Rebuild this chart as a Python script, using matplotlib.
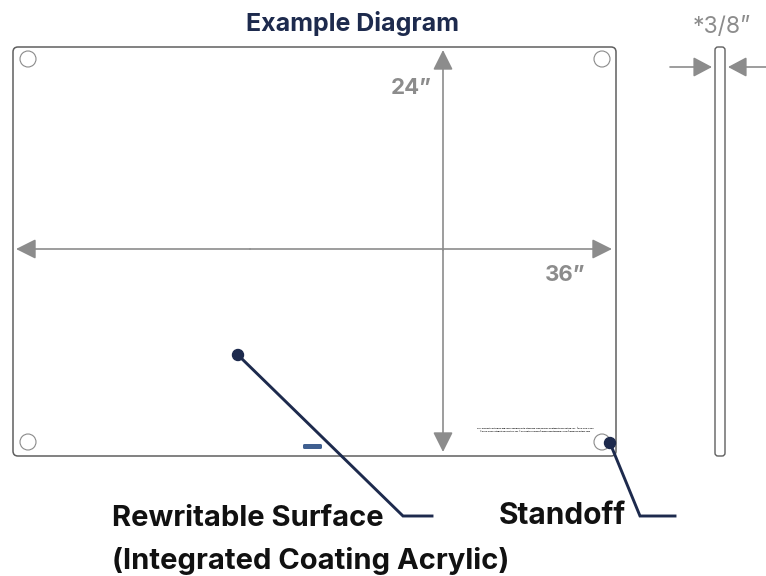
import matplotlib
matplotlib.use("Agg")
import matplotlib.pyplot as plt
from matplotlib.patches import Circle, FancyBboxPatch

W, H = 766, 576
NAVY = "#1d2a4d"
GREY = "#8c8c8c"
EDGE = "#5f5f5f"

plt.rcParams["font.family"] = ["Inter", "DejaVu Sans"]

title = "Example Diagram"
height_label = "24”"
width_label = "36”"
thick_label = "*3/8”"
surface_label = "Rewritable Surface"
coating_label = "(Integrated Coating Acrylic)"
standoff_label = "Standoff"
fine_print = [
    "This Product Part #QTE-MB-WH Provided With Standard Trademarks of Integrity Marketing, Inc. | 555-555-5555",
    "©2019-2020 Integrity Marketing, Inc. | All rights reserved | www.hfwhiteboards.com | www.hfcustom.com",
]

# board rectangle and mounting holes, in pixels of the reference
board = (13, 47, 603, 409)
holes = [(28, 59), (602, 59), (28, 442), (602, 442)]
side = (715, 47, 10, 409)

fig = plt.figure(figsize=(W / 100, H / 100), dpi=100)
ax = fig.add_axes([0, 0, 1, 1])
ax.set_xlim(0, W)
ax.set_ylim(H, 0)
ax.axis("off")


def arrow(x0, y0, x1, y1, hw=8.5, hl=17):
    # filled head at the x1,y1 end only, sizes in pixels
    ax.annotate("", xy=(x1, y1), xytext=(x0, y0),
                arrowprops=dict(arrowstyle=f"-|>,head_length={hl * 0.72},head_width={hw * 0.72}",
                                mutation_scale=1, color=GREY, lw=1.2, shrinkA=0, shrinkB=0))


ax.add_patch(FancyBboxPatch((board[0] + 5, board[1] + 5), board[2] - 10, board[3] - 10,
                            boxstyle="round,pad=5,rounding_size=5", fc="white", ec=EDGE, lw=1.1))
ax.add_patch(FancyBboxPatch((side[0] + 3, side[1] + 3), side[2] - 6, side[3] - 6,
                            boxstyle="round,pad=3,rounding_size=3", fc="white", ec=EDGE, lw=1.0))
for hx, hy in holes:
    ax.add_patch(Circle((hx, hy), 8, fc="white", ec="#8a8a8a", lw=0.8))

# dimension arrows
arrow(443, 250, 443, 50)
arrow(443, 250, 443, 452)
arrow(250, 249, 16, 249)
arrow(250, 249, 612, 249)
arrow(670, 67, 712, 67, hw=8.5, hl=16)
arrow(766, 67, 728, 67, hw=8.5, hl=16)

# callouts
ax.plot([238, 403, 432], [355, 516, 516], color=NAVY, lw=2.1, solid_joinstyle="miter")
ax.plot([610, 640, 675], [443, 516, 516], color=NAVY, lw=2.1, solid_joinstyle="miter")
ax.add_patch(Circle((238, 355), 5.5, fc=NAVY, ec=NAVY))
ax.add_patch(Circle((610, 443), 5.5, fc=NAVY, ec=NAVY))

ax.text(352, 23, title, ha="center", va="center", fontsize=18, fontweight="bold", color=NAVY)
ax.text(411, 88, height_label, ha="center", va="center", fontsize=16, fontweight="bold", color=GREY)
ax.text(565, 275, width_label, ha="center", va="center", fontsize=16, fontweight="bold", color=GREY)
ax.text(722, 27, thick_label, ha="center", va="center", fontsize=16.5, color=GREY)
ax.text(112, 518, surface_label, ha="left", va="center", fontsize=21, fontweight="bold", color="#111111")
ax.text(112, 561, coating_label, ha="left", va="center", fontsize=21, fontweight="bold", color="#111111")
ax.text(499, 516, standoff_label, ha="left", va="center", fontsize=21.5, fontweight="bold", color="#111111")

# tiny print and logo at the bottom of the board
ax.text(535, 428, fine_print[0], ha="center", va="center", fontsize=1.5, fontweight="bold", color="#111111")
ax.text(535, 431, fine_print[1], ha="center", va="center", fontsize=1.5, fontweight="bold", color="#111111")
ax.add_patch(FancyBboxPatch((304.5, 445.5), 16, 2, boxstyle="round,pad=1.5", fc="#3f5f90", ec="none"))

fig.savefig("out.png", dpi=100)
